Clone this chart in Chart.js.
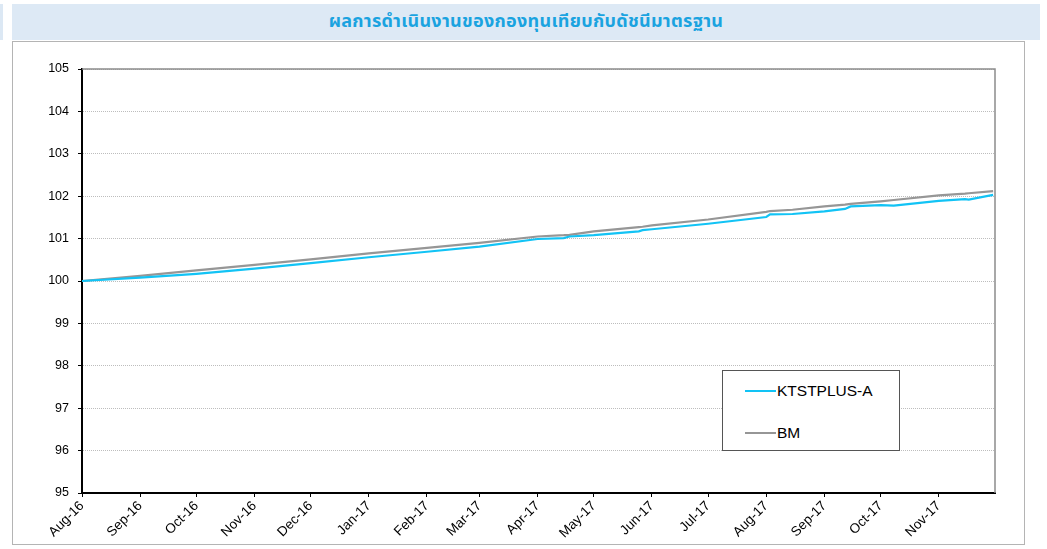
<!DOCTYPE html>
<html>
<head>
<meta charset="utf-8">
<script src="https://cdn.jsdelivr.net/npm/chart.js@4/dist/chart.umd.min.js"></script>
<style>
  html, body { margin: 0; padding: 0; background: #fff; }
  body { width: 1047px; height: 549px; position: relative; overflow: hidden;
         font-family: "Liberation Sans", Arial, sans-serif; }
  #strip { position: absolute; left: 0; top: 4px; width: 3px; height: 36px; background: #dce8f4; }
  #band { position: absolute; left: 12px; top: 4px; width: 1028px; height: 36px; background: #dde9f5;
          text-align: center; line-height: 36px; }
  #band span { color: #1aa3e0; font-weight: bold; font-size: 18px; letter-spacing: 0.3px;
               font-family: "Noto Sans Thai", "Noto Sans", "DejaVu Sans", sans-serif; }
  #frame { position: absolute; left: 12px; top: 41px; width: 1011px; height: 502px;
           border: 1px solid #b4b4b4; background: #fff; }
  #chartWrap { position: absolute; left: 0; top: 0; width: 1010px; height: 502px; }
  #legend { position: absolute; left: 722px; top: 370px; width: 176px; height: 79px;
            border: 1px solid #555; background: #fff; }
  .lg-item { position: absolute; left: 22px; height: 18px; font-size: 15.5px; color: #000;
             line-height: 18px; white-space: nowrap; }
  .lg-swatch { display: inline-block; width: 31px; height: 2px; vertical-align: middle;
               margin-right: 1px; position: relative; top: -1px; }
</style>
</head>
<body>
<div id="strip"></div>
<div id="band"><span>ผลการดำเนินงานของกองทุนเทียบกับดัชนีมาตรฐาน</span></div>
<div id="frame"><div id="chartWrap"><canvas id="perfChart" width="1010" height="502"></canvas></div></div>
<div id="legend"></div>

<script>
  // Data (fund NAV vs benchmark, rebased to 100)
  const dates = [
    '2016-08-01', '2016-09-01', '2016-10-01', '2016-11-01', '2016-12-01',
    '2017-01-01', '2017-02-01', '2017-03-01', '2017-04-01', '2017-04-15',
    '2017-04-18', '2017-05-01', '2017-05-25', '2017-05-27', '2017-06-01',
    '2017-07-01', '2017-08-01', '2017-08-03', '2017-08-15', '2017-09-01',
    '2017-09-12', '2017-09-15', '2017-10-01', '2017-10-08', '2017-11-01',
    '2017-11-15', '2017-11-17', '2017-11-30'
  ];
  const fundValues = [
    100.00, 100.08, 100.17, 100.29, 100.42,
    100.56, 100.69, 100.81, 100.99, 101.01,
    101.05, 101.08, 101.17, 101.20, 101.22,
    101.35, 101.51, 101.57, 101.58, 101.64,
    101.70, 101.76, 101.79, 101.78, 101.89,
    101.93, 101.92, 102.03
  ];
  const bmValues = [
    100.00, 100.12, 100.25, 100.38, 100.51,
    100.65, 100.78, 100.90, 101.05, 101.08,
    101.09, 101.17, 101.27, 101.28, 101.31,
    101.45, 101.63, 101.65, 101.68, 101.76,
    101.80, 101.82, 101.88, 101.91, 102.02,
    102.06, 102.07, 102.12
  ];
  const monthStarts = [
    '2016-08-01', '2016-09-01', '2016-10-01', '2016-11-01', '2016-12-01',
    '2017-01-01', '2017-02-01', '2017-03-01', '2017-04-01', '2017-05-01',
    '2017-06-01', '2017-07-01', '2017-08-01', '2017-09-01', '2017-10-01',
    '2017-11-01'
  ];
  const monthLabels = [
    'Aug-16', 'Sep-16', 'Oct-16', 'Nov-16', 'Dec-16', 'Jan-17', 'Feb-17', 'Mar-17',
    'Apr-17', 'May-17', 'Jun-17', 'Jul-17', 'Aug-17', 'Sep-17', 'Oct-17', 'Nov-17'
  ];
  const axisEnd = '2017-12-01';
  const yTicks = [95, 96, 97, 98, 99, 100, 101, 102, 103, 104, 105];

  // day offset from the first date, used as the linear x value
  const DAY = 86400000;
  const t0 = Date.parse(dates[0]);
  const dayOf = (s) => Math.round((Date.parse(s) - t0) / DAY);

  const toPoints = (vals) => dates.map((d, i) => ({ x: dayOf(d), y: vals[i] }));
  const tickDays = monthStarts.map(dayOf);

  // gray top/right border of the plot area
  const plotBorder = {
    id: 'plotBorder',
    beforeDatasetsDraw(chart) {
      const { ctx, chartArea: a } = chart;
      ctx.save();
      ctx.strokeStyle = '#8c8c8c';
      ctx.lineWidth = 1.5;
      ctx.beginPath();
      ctx.moveTo(a.left, a.top);
      ctx.lineTo(a.right, a.top);
      ctx.lineTo(a.right, a.bottom);
      ctx.stroke();
      ctx.restore();
    }
  };

  const ctx = document.getElementById('perfChart').getContext('2d');
  const chart = new Chart(ctx, {
    type: 'line',
    data: {
      datasets: [
        {
          label: 'KTSTPLUS-A',
          data: toPoints(fundValues),
          borderColor: '#12c3f5',
          borderWidth: 2.2,
          pointRadius: 0,
          tension: 0
        },
        {
          label: 'BM',
          data: toPoints(bmValues),
          borderColor: '#969696',
          borderWidth: 2.2,
          pointRadius: 0,
          tension: 0
        }
      ]
    },
    options: {
      responsive: false,
      animation: false,
      layout: { padding: { left: 0, right: 28, top: 27, bottom: 0 } },
      plugins: { legend: { display: false }, tooltip: { enabled: false } },
      scales: {
        x: {
          type: 'linear',
          min: 0,
          max: dayOf(axisEnd),
          afterBuildTicks: (scale) => {
            scale.ticks = tickDays.map((v) => ({ value: v }));
          },
          afterFit: (scale) => { scale.height = 51; },
          ticks: {
            callback: (v) => monthLabels[tickDays.indexOf(v)] || '',
            font: { family: 'Liberation Sans', size: 13.5 },
            color: '#000',
            minRotation: 45,
            maxRotation: 45,
            padding: 1,
            autoSkip: false
          },
          grid: { drawOnChartArea: false, drawTicks: true, tickLength: 4, tickColor: '#000' },
          border: { color: '#000', width: 2 }
        },
        y: {
          min: 95,
          max: 105,
          afterBuildTicks: (scale) => {
            scale.ticks = yTicks.map((v) => ({ value: v }));
          },
          afterFit: (scale) => { scale.width = 69; },
          ticks: {
            font: { family: 'Liberation Sans', size: 12.5 },
            color: '#000',
            padding: 9
          },
          grid: {
            color: '#bdbdbd',
            lineWidth: 1,
            tickLength: 4,
            tickColor: '#000'
          },
          // in v4 border.dash styles the grid lines
          border: { color: '#000', width: 2, dash: [1, 1] }
        }
      }
    },
    plugins: [plotBorder]
  });

  // HTML legend built from the chart's datasets
  const legendEl = document.getElementById('legend');
  chart.data.datasets.forEach((ds, i) => {
    const item = document.createElement('div');
    item.className = 'lg-item';
    item.style.top = (i === 0 ? 11 : 53) + 'px';
    item.innerHTML = '<span class="lg-swatch" style="background:' + ds.borderColor + '"></span>' + ds.label;
    legendEl.appendChild(item);
  });
</script>
</body>
</html>
